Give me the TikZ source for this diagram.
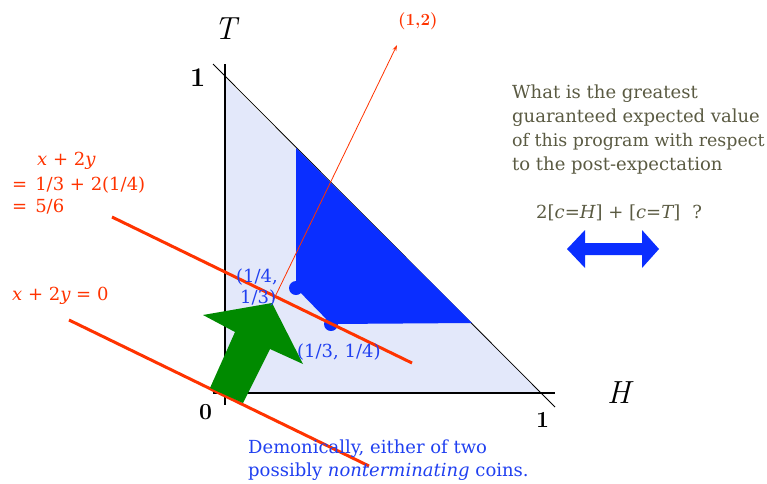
\documentclass[tikz,border=0pt]{standalone}
\usepackage{fontspec}
\newfontfamily\geo{DejaVu Serif}
\usetikzlibrary{arrows.meta}
\definecolor{redl}{HTML}{FF3300}
\definecolor{bluef}{HTML}{0A2EFF}
\definecolor{bluet}{HTML}{2040F0}
\definecolor{greyt}{HTML}{5A5A42}
\definecolor{lightb}{HTML}{E3E8FA}
\definecolor{greenA}{HTML}{008A00}
\tikzset{
  gtext/.style={anchor=base west, inner sep=0pt, text=greyt, font=\geo\fontsize{18}{22}\selectfont},
  rtext/.style={anchor=base west, inner sep=0pt, text=redl, font=\geo\fontsize{18}{22}\selectfont},
  btext/.style={anchor=base west, inner sep=0pt, text=bluet, font=\geo\fontsize{18}{22}\selectfont},
  axlab/.style={anchor=base west, inner sep=0pt, font=\itshape\fontsize{32}{38}\selectfont},
  numlab/.style={anchor=base west, inner sep=0pt, font=\bfseries\fontsize{27}{32}\selectfont},
  thickred/.style={draw=redl, line width=3pt},
}
\begin{document}
\begin{tikzpicture}[x=1pt,y=-1pt]
\useasboundingbox (0,0) rectangle (767,483);
% quadrant triangle
\fill[lightb] (225,78) -- (225,393) -- (541,393) -- cycle;
\draw[line width=0.8pt] (213,64) -- (555,407);
\draw[line width=1.8pt] (225,64) -- (225,405);
\draw[line width=1.8pt] (213,393) -- (555,393);
% blue region
\fill[bluef] (296,148) -- (296,288) -- (331,324) -- (472,323) -- cycle;
\fill[bluef] (296,288) circle (7);
\fill[bluef] (331,324) circle (7);
% thin direction arrow
\coordinate (p0) at (273,301);
\coordinate (p1) at (397,45);
\draw[redl, line width=0.8pt, -{Stealth[length=6pt,width=4pt]}] (p0) -- (p1);
\node[anchor=base west, inner sep=0pt, text=redl, font=\bfseries\fontsize{17}{20}\selectfont] (l12) at (398,25) {(1,2)};
% thick red lines
\coordinate (a1) at (112,217); \coordinate (a2) at (412,363);
\coordinate (b1) at (69,320); \coordinate (b2) at (369,466);
\draw[thickred] (a1) -- (a2);
\draw[thickred] (b1) -- (b2);
% green arrow
\fill[greenA] (272,303) -- (303,364) -- (270,349) -- (243,403) -- (210,388) -- (235,332) -- (203,315) -- cycle;
% axis labels
\node[axlab] (T) at (214,39) {T};
\node[axlab] (H) at (607,403) {H};
\node[numlab] (one1) at (190,86) {1};
\node[numlab, font=\bfseries\fontsize{23}{28}\selectfont] (zero) at (199,419) {0};
\node[numlab, font=\bfseries\fontsize{23}{28}\selectfont] (one2) at (536,427) {1};
% point labels
\node[btext] (q1a) at (236,282) {(1/4,};
\node[btext] (q1b) at (240,303) {1/3)};
\node[btext] (q2) at (297,357) {(1/3, 1/4)};
% red formula
\node[rtext] (f1) at (37,165) {\itshape x\upshape{} + 2\itshape y};
\node[rtext] (f2) at (12,190) {=\hspace{8pt}1/3 + 2(1/4)};
\node[rtext] (f3) at (12,212) {=\hspace{8pt}5/6};
\node[rtext] (f4) at (12,300) {\itshape x\upshape{} + 2\itshape y\upshape{} = 0};
% question
\node[gtext] (g1) at (512,98) {What is the greatest};
\node[gtext] (g2) at (512,122) {guaranteed expected value};
\node[gtext, font=\geo\fontsize{17.4}{22}\selectfont] (g3) at (512,146) {of this program with respect};
\node[gtext] (g4) at (512,170) {to the post-expectation};
\node[gtext] (g5) at (536,218) {2[\itshape c\upshape=\itshape H\upshape] + [\itshape c\upshape=\itshape T\upshape]\hspace{12pt}?};
% double arrow
\fill[bluef] (567,249) -- (585,230) -- (585,243) -- (642,243) -- (642,230) -- (659,249) -- (642,268) -- (642,255) -- (585,255) -- (585,268) -- cycle;
% bottom caption
\node[btext] (c1) at (248,453) {Demonically, either of two};
\node[btext] (c2) at (248,476) {possibly \itshape nonterminating\upshape{} coins.};
\end{tikzpicture}
\end{document}
